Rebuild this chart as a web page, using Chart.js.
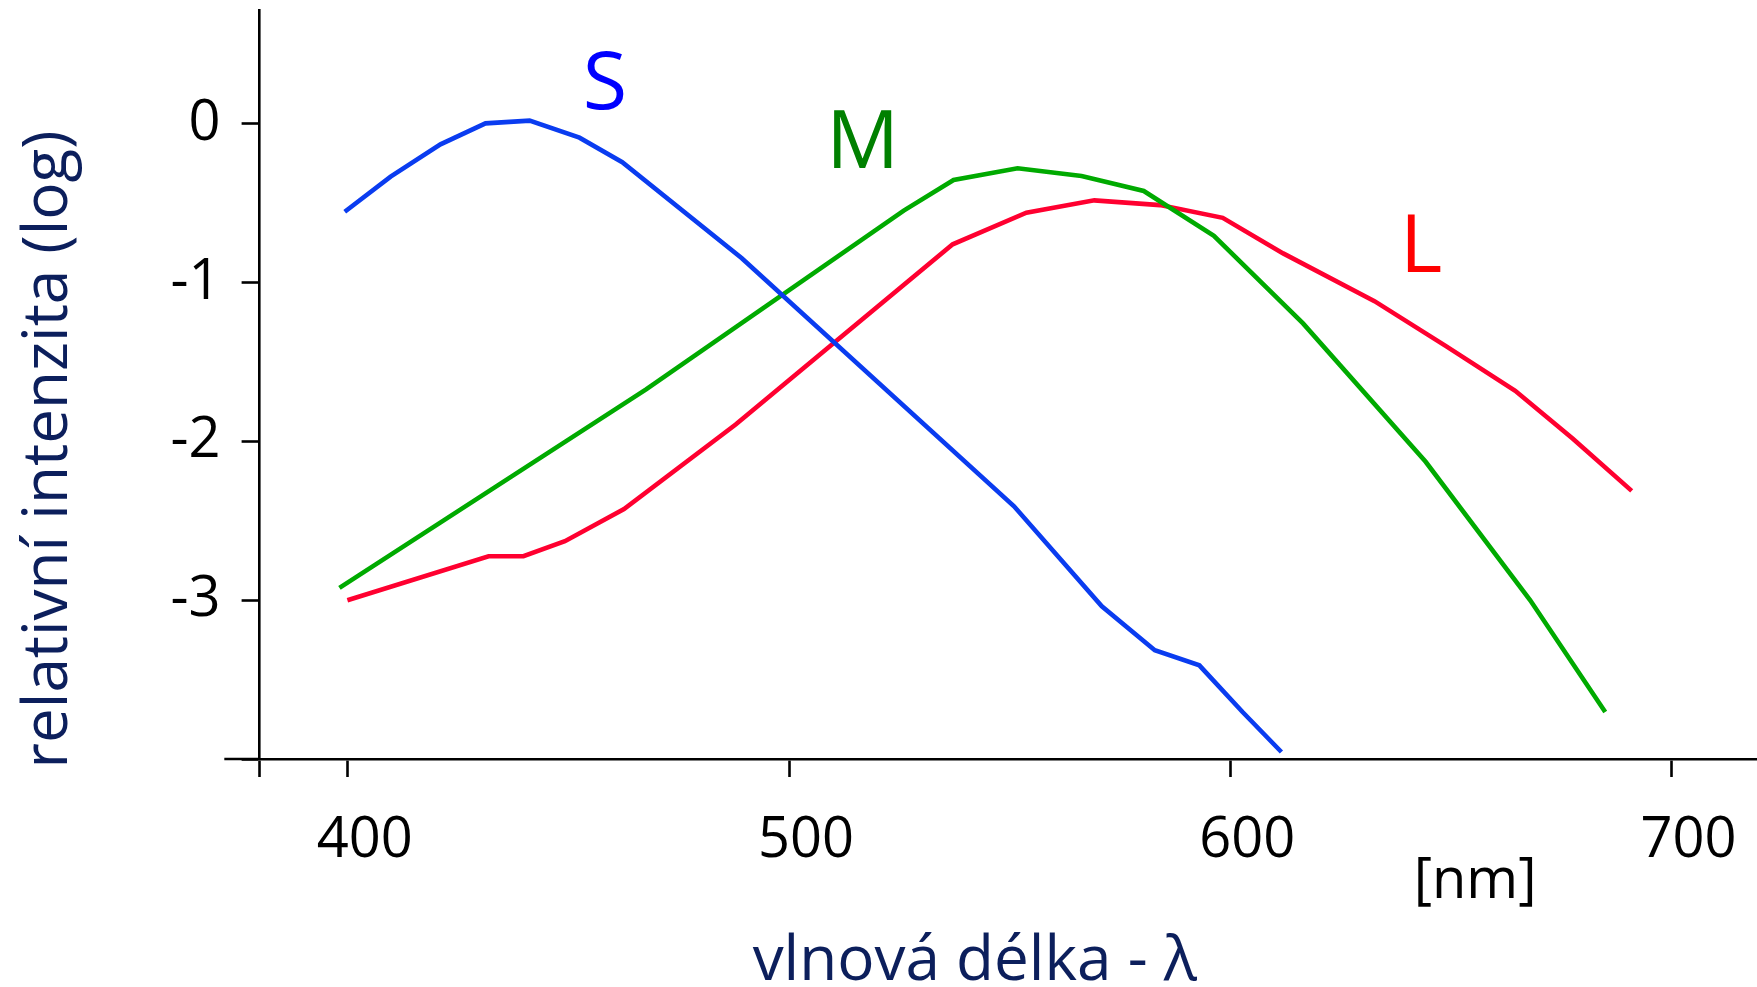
<!DOCTYPE html>
<html>
<head>
<meta charset="utf-8">
<script src="https://cdn.jsdelivr.net/npm/chart.js@4.4.1/dist/chart.umd.min.js"></script>
<style>
  html, body { margin: 0; padding: 0; background: #fff; }
  #wrap { width: 1757px; height: 987px; }
</style>
</head>
<body>
<div id="wrap"><canvas id="cones" width="1757" height="987"></canvas></div>
<script>
// cone sensitivity curves, wavelength (nm) vs. log relative intensity
const sWavelength = [399.3, 409.7, 421.0, 431.2, 441.2, 452.5, 462.2, 489.3, 551.0, 570.9, 582.9, 593.0, 602.8, 611.6];
const sIntensity  = [-0.553, -0.332, -0.128, 0.004, 0.021, -0.086, -0.241, -0.846, -2.408, -3.038, -3.315, -3.410, -3.704, -3.956];

const mWavelength = [398.1, 467.6, 526.0, 537.3, 551.8, 566.3, 580.4, 596.3, 616.5, 644.3, 668.0, 685.0];
const mIntensity  = [-2.922, -1.672, -0.546, -0.353, -0.279, -0.328, -0.422, -0.704, -1.256, -2.128, -3.000, -3.704];

const lWavelength = [399.9, 431.9, 439.8, 449.2, 462.6, 487.9, 537.1, 553.8, 569.2, 584.1, 598.3, 612.0, 632.7, 648.9, 664.6, 677.6, 691.0];
const lIntensity  = [-3.000, -2.723, -2.723, -2.628, -2.426, -1.893, -0.758, -0.559, -0.481, -0.511, -0.591, -0.815, -1.116, -1.399, -1.681, -1.981, -2.311];

const xTicks = [400, 500, 600, 700];
const yTicks = [0, -1, -2, -3];

const curveNames = ["S", "M", "L"];
const xTitle = "vlnová délka - λ";
const yTitle = "relativní intenzita (log)";
const unitText = "[nm]";

// axis ranges
const xMin = 380, xMax = 719.4, xStub = 372;
const yMin = -4, yMax = 0.718;

const lineColors = ["#0a3cf0", "#00aa00", "#ff0030"];
const textColors = ["#0000ff", "#008000", "#ff0000"];
const titleColor = "#0c1f5c";

// where the S / M / L letters sit (data units, baseline)
const labelAt = [[458.3, 0.095], [516.7, -0.277], [643.3, -0.93]];

function points(xs, ys) {
  return xs.map((x, i) => ({ x: x, y: ys[i] }));
}

Chart.defaults.font.family = '"Open Sans", sans-serif';

const figureText = {
  id: "figureText",
  afterDraw(chart) {
    const { ctx } = chart;
    const x = chart.scales.x;
    const y = chart.scales.y;
    ctx.save();

    // x axis runs a bit past the y axis on the left
    ctx.strokeStyle = "#000";
    ctx.lineWidth = 2.6;
    ctx.beginPath();
    ctx.moveTo(x.getPixelForValue(xStub), y.getPixelForValue(yMin));
    ctx.lineTo(x.left, y.getPixelForValue(yMin));
    ctx.stroke();

    // curve letters
    ctx.font = '81px "Open Sans"';
    ctx.textAlign = "center";
    ctx.textBaseline = "alphabetic";
    curveNames.forEach((name, i) => {
      ctx.fillStyle = textColors[i];
      ctx.fillText(name, x.getPixelForValue(labelAt[i][0]), y.getPixelForValue(labelAt[i][1]));
    });

    // unit
    ctx.fillStyle = "#000";
    ctx.font = '56px "Open Sans"';
    ctx.fillText(unitText, x.getPixelForValue(655.5), 898);

    // axis titles
    ctx.fillStyle = titleColor;
    ctx.font = '62px "Open Sans"';
    ctx.fillText(xTitle, x.getPixelForValue(542.1), 980);

    ctx.translate(49, y.getPixelForValue(-2.05));
    ctx.rotate(-Math.PI / 2);
    ctx.textBaseline = "middle";
    ctx.fillText(yTitle, 0, 0);

    ctx.restore();
  },
};

const ctx = document.getElementById("cones");
new Chart(ctx, {
  type: "line",
  data: {
    datasets: [
      { label: curveNames[0], data: points(sWavelength, sIntensity), borderColor: lineColors[0] },
      { label: curveNames[1], data: points(mWavelength, mIntensity), borderColor: lineColors[1] },
      { label: curveNames[2], data: points(lWavelength, lIntensity), borderColor: lineColors[2] },
    ],
  },
  options: {
    responsive: false,
    devicePixelRatio: 1,
    animation: false,
    layout: { padding: { top: 10, left: 0, right: 0, bottom: 0 } },
    elements: {
      line: { borderWidth: 4.6, tension: 0, fill: false },
      point: { radius: 0, hoverRadius: 0 },
    },
    plugins: {
      legend: { display: false },
      tooltip: { enabled: false },
    },
    scales: {
      x: {
        type: "linear",
        min: xMin,
        max: xMax,
        afterBuildTicks(axis) {
          axis.ticks = [xMin].concat(xTicks).map((v) => ({ value: v }));
        },
        afterFit(axis) {
          axis.height = 228;
          axis.paddingLeft = 0;
          axis.paddingRight = 0;
        },
        grid: {
          drawOnChartArea: false,
          tickLength: 18,
          tickWidth: 2.6,
          tickColor: "#000",
        },
        border: { color: "#000", width: 2.6 },
        ticks: {
          autoSkip: false,
          maxRotation: 0,
          padding: 30,
          labelOffset: 17,
          color: "#000",
          font: { size: 56 },
          callback: (v) => (xTicks.includes(v) ? String(v) : ""),
        },
      },
      y: {
        type: "linear",
        min: yMin,
        max: yMax,
        afterBuildTicks(axis) {
          axis.ticks = [yMin].concat(yTicks).map((v) => ({ value: v }));
        },
        afterFit(axis) {
          axis.width = 259.6;
          axis.paddingTop = 0;
          axis.paddingBottom = 0;
        },
        grid: {
          drawOnChartArea: false,
          tickLength: 18,
          tickWidth: 2.6,
          tickColor: "#000",
        },
        border: { color: "#000", width: 2.6 },
        ticks: {
          autoSkip: false,
          padding: 21,
          color: "#000",
          font: { size: 56 },
          callback: (v) => (yTicks.includes(v) ? String(v) : ""),
        },
      },
    },
  },
  plugins: [figureText],
});
</script>
</body>
</html>
